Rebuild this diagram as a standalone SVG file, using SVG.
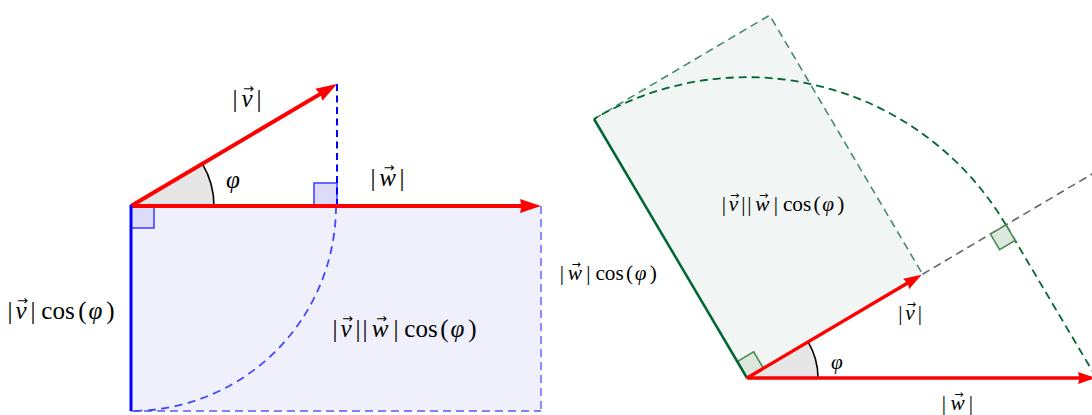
<svg xmlns="http://www.w3.org/2000/svg" width="1092" height="415" viewBox="0 0 1092 415">
<style>
.t{font-family:"Liberation Serif","DejaVu Serif",serif;fill:#000;text-anchor:middle}
.L{font-size:25px}
.R{font-size:21.25px}
.i{font-style:italic}
.va{font-family:"DejaVu Sans",sans-serif;fill:#000;text-anchor:middle}
.vaL{font-size:13px}
.vaR{font-size:11px}
.red{stroke:#ff0000;fill:none}
.bsq{fill:#dcdcf8;stroke:#4646ff;stroke-width:1.6}
.gsq{fill:#dce8dc;stroke:#4d8a55;stroke-width:1.6}
.ang{fill:#e6e6e6;stroke:none}
.angarc{fill:none;stroke:#000;stroke-width:1.6}
</style>
<defs>
<marker id="arrL" viewBox="-20 -10 30 20" refX="0" refY="0" markerWidth="30" markerHeight="20" markerUnits="userSpaceOnUse" orient="auto">
<path d="M6,0 L-15,-7 L-13.5,0 L-15,7 Z" fill="#ff0000"/>
</marker>
<marker id="arrR" viewBox="-20 -10 30 20" refX="0" refY="0" markerWidth="30" markerHeight="20" markerUnits="userSpaceOnUse" orient="auto">
<path d="M5,0 L-13,-6 L-11.5,0 L-13,6 Z" fill="#ff0000"/>
</marker>
</defs>

<!-- LEFT DIAGRAM -->
<g id="left-rect">
<rect x="131" y="206" width="410" height="205" fill="#f0f0fc"/>
<line x1="131" y1="411" x2="541" y2="411" stroke="#8080ff" stroke-width="1.8" stroke-dasharray="8,5"/>
<line x1="541" y1="206" x2="541" y2="411" stroke="#8080ff" stroke-width="1.8" stroke-dasharray="8,5"/>
</g>
<g id="left-squares">
<rect class="bsq" x="131" y="206" width="23" height="22"/>
<rect class="bsq" x="314" y="183" width="23" height="23"/>
</g>
<g id="left-proj">
<line x1="337" y1="84" x2="337" y2="206" stroke="#0000ff" stroke-width="2" stroke-dasharray="7,4.5"/>
<path d="M336,206 A205,205 0 0 1 131,411" fill="none" stroke="#4545ff" stroke-width="1.8" stroke-dasharray="8,5.5"/>
</g>
<g id="left-angle">
<path class="ang" d="M131,206 L214,206 A83,83 0 0 0 202.4,163.8 Z"/>
<path class="angarc" d="M214,206 A83,83 0 0 0 202.4,163.8"/>
</g>
<g id="left-vectors">
<line class="red" x1="131" y1="206" x2="331.8" y2="87.1" stroke-width="4" marker-end="url(#arrL)"/>
<line class="red" x1="131" y1="206" x2="535" y2="206" stroke-width="4" marker-end="url(#arrL)"/>
<line x1="131" y1="205" x2="131" y2="411" stroke="#0000ff" stroke-width="3"/>
</g>
<g id="left-labels">
<text class="t L" y="107"><tspan x="235">|</tspan><tspan class="i" x="247">v</tspan><tspan x="259">|</tspan></text>
<text class="va vaL" x="248.5" y="93.4">→</text>
<text class="t L i" x="233" y="188">φ</text>
<text class="t L" y="186"><tspan x="373">|</tspan><tspan class="i" x="387.5">w</tspan><tspan x="402">|</tspan></text>
<text class="va vaL" x="389" y="172.4">→</text>
<text class="t L" y="319"><tspan x="10">|</tspan><tspan class="i" x="21">v</tspan><tspan x="33">|</tspan><tspan x="58">cos</tspan><tspan x="82.5">(</tspan><tspan class="i" x="95.5">φ</tspan><tspan x="110.5">)</tspan></text>
<text class="va vaL" x="22.5" y="305.4">→</text>
<text class="t L" y="337"><tspan x="335">|</tspan><tspan class="i" x="346">v</tspan><tspan x="358">|</tspan><tspan x="365">|</tspan><tspan class="i" x="380">w</tspan><tspan x="396">|</tspan><tspan x="421">cos</tspan><tspan x="444.5">(</tspan><tspan class="i" x="457.5">φ</tspan><tspan x="472.5">)</tspan></text>
<text class="va vaL" x="347.5" y="323.4">→</text>
<text class="va vaL" x="381.5" y="323.4">→</text>
</g>

<!-- RIGHT DIAGRAM -->
<g id="right-rect">
<polygon points="747,378 922.6,274.2 769.6,15.2 594,119" fill="#f1f6f4"/>
<polyline points="594,119 769.6,15.2 922.6,274.2" fill="none" stroke="#4a8a6a" stroke-width="1.6" stroke-dasharray="8,5"/>
</g>
<g id="right-proj">
<line x1="922.6" y1="274.2" x2="1100" y2="169.3" stroke="#666" stroke-width="1.6" stroke-dasharray="8,5"/>
<path d="M1005.9,224.9 A300.8,300.8 0 0 0 594,119" fill="none" stroke="#006633" stroke-width="1.8" stroke-dasharray="8,5"/>
<line x1="1005.9" y1="224.9" x2="1096.5" y2="378" stroke="#006633" stroke-width="1.8" stroke-dasharray="8,5"/>
</g>
<g id="right-squares">
<polygon class="gsq" points="1005.9,224.9 990.4,234.1 999.6,249.6 1015.1,240.4"/>
<polygon class="gsq" points="747,378 763.4,368.3 753.7,351.9 737.3,361.6"/>
</g>
<g id="right-angle">
<path class="ang" d="M747,378 L818,378 A71,71 0 0 0 808.1,341.9 Z"/>
<path class="angarc" d="M818,378 A71,71 0 0 0 808.1,341.9"/>
</g>
<g id="right-vectors">
<line x1="747" y1="378" x2="594" y2="119" stroke="#006633" stroke-width="2.5"/>
<line class="red" x1="747" y1="378" x2="917.4" y2="277.3" stroke-width="3.4" marker-end="url(#arrR)"/>
<line class="red" x1="747" y1="378" x2="1091" y2="378" stroke-width="3.4" marker-end="url(#arrR)"/>
</g>
<g id="right-labels">
<text class="t R" y="211"><tspan x="724">|</tspan><tspan class="i" x="733.4">v</tspan><tspan x="743.5">|</tspan><tspan x="749.5">|</tspan><tspan class="i" x="762.3">w</tspan><tspan x="775.9">|</tspan><tspan x="797.1">cos</tspan><tspan x="817.1">(</tspan><tspan class="i" x="828.1">φ</tspan><tspan x="840.9">)</tspan></text>
<text class="va vaR" x="734.6" y="199.4">→</text>
<text class="va vaR" x="763.5" y="199.4">→</text>
<text class="t R" y="280"><tspan x="562">|</tspan><tspan class="i" x="574.8">w</tspan><tspan x="588.4">|</tspan><tspan x="609.6">cos</tspan><tspan x="629.6">(</tspan><tspan class="i" x="640.6">φ</tspan><tspan x="653.4">)</tspan></text>
<text class="va vaR" x="576" y="268.4">→</text>
<text class="t R" y="320"><tspan x="900.5">|</tspan><tspan class="i" x="910">v</tspan><tspan x="920">|</tspan></text>
<text class="va vaR" x="911.3" y="308.4">→</text>
<text class="t R i" x="837" y="369">φ</text>
<text class="t R" y="410"><tspan x="944">|</tspan><tspan class="i" x="957.5">w</tspan><tspan x="971">|</tspan></text>
<text class="va vaR" x="958.8" y="398.4">→</text>
</g>
</svg>
